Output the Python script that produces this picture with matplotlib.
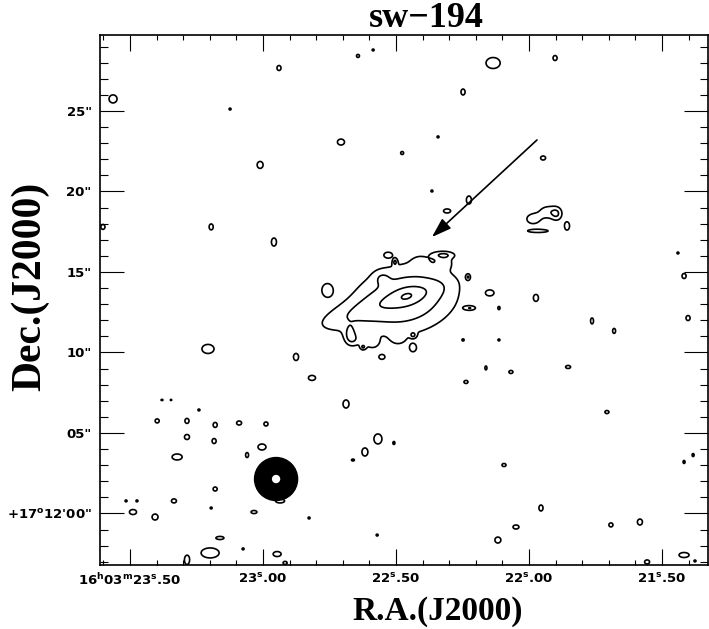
import numpy as np
import matplotlib
matplotlib.use("Agg")
import matplotlib.pyplot as plt
from matplotlib.patches import Ellipse
from matplotlib.ticker import MultipleLocator, FixedLocator

plt.rcParams['mathtext.fontset'] = 'dejavusans'

# contour levels (in units of the map rms)
levels = [3, 6, 12, 24]

# galaxy model: centre RA (s of 16h03m), Dec (arcsec of +17d12m), peak, sigma major/minor (arcsec)
# disk, bar, core, south-east tail
gal_ra = [22.466, 22.470, 22.459, 22.692]
gal_dec = [13.30, 13.42, 13.51, 12.14]
gal_amp = [9.0, 7.0, 10.0, 3.5]
gal_smaj = [2.0, 1.2, 0.45, 1.5]
gal_smin = [1.45, 0.38, 0.28, 0.6]
gal_pa = 19.0

# knots on the edge of the outer contour
knot_ra = [22.654, 22.590, 22.492, 22.553, 22.410, 22.316]
knot_dec = [10.78, 10.60, 10.90, 14.63, 15.56, 15.62]
knot_amp = [3.0, 3.0, 2.5, 2.5, 2.5, 2.5]

# small noise peaks: RA (s), Dec ("), full width in RA and Dec (") at the lowest level
blob_ra = [23.564, 22.940, 22.643, 22.586, 22.135, 21.902, 22.248, 23.124, 22.707, 22.477,
           22.342, 21.947, 23.011, 22.365, 23.195, 22.959, 23.602, 21.985, 21.929, 21.895,
           21.966, 21.857, 22.226, 22.308, 21.440, 21.417, 22.530, 22.504, 22.323, 22.759,
           22.673, 22.624, 22.436, 22.436, 22.553, 22.222, 22.147, 22.113, 22.248, 22.113,
           22.229, 21.974, 21.763, 21.680, 21.402, 21.853, 23.207, 22.876, 22.816, 22.688,
           22.237, 22.162, 22.068, 21.707, 23.398, 23.380, 23.346, 23.286, 23.241, 23.180,
           23.090, 23.286, 23.184, 23.323, 23.004, 23.060, 22.989, 22.568, 22.508, 22.617,
           22.662, 22.094, 22.936, 23.034, 22.827, 23.489, 23.406, 23.335, 23.515, 23.474,
           23.195, 23.180, 23.286, 23.199, 23.162, 23.075, 22.947, 22.917, 22.571, 22.117,
           22.049, 21.955, 21.692, 21.583, 21.556, 21.417, 21.376, 21.417, 21.383]
blob_dec = [25.75, 27.67, 28.42, 28.79, 27.98, 28.29, 26.18, 25.12, 23.07, 22.39,
            23.39, 22.08, 21.65, 20.03, 17.80, 16.86, 17.80, 18.29, 18.73, 18.60,
            17.55, 17.86, 19.47, 18.79, 16.18, 14.75, 16.06, 15.62, 16.06, 13.88,
            11.09, 10.34, 11.09, 10.28, 9.72, 12.76, 13.70, 12.76, 10.78, 10.78,
            14.69, 13.39, 11.96, 11.34, 12.14, 9.10, 10.22, 9.72, 8.42, 6.80,
            8.17, 9.04, 8.79, 6.30, 5.75, 7.05, 7.05, 5.75, 6.43, 5.50,
            5.62, 4.75, 4.50, 3.51, 4.13, 3.63, 5.56, 4.63, 4.38, 3.82,
            3.32, 3.01, 0.78, 0.09, -0.28, 0.09, -0.22, 0.78, 0.78, 0.78,
            0.34, 1.52, -2.89, -2.45, -1.52, -2.20, -2.52, -3.07, -1.34, -1.65,
            -0.84, 0.34, -0.71, -0.53, -3.01, -2.58, -2.95, 3.20, 3.63]
blob_w = [.43, .22, .16, .11, .76, .22, .22, .11, .38, .16,
          .11, .27, .32, .11, .22, .27, .22, .65, .76, .43,
          1.08, .27, .27, .38, .11, .22, .32, .16, .86, .49,
          .43, .22, .22, .27, .27, .43, .38, .11, .11, .11,
          .16, .27, .16, .16, .22, .27, .65, .27, .38, .32,
          .22, .11, .22, .22, .22, .11, .08, .22, .11, .22,
          .27, .27, .22, .54, .43, .16, .22, .43, .11, .32,
          .16, .22, .49, .32, .11, .38, .32, .27, .11, .11,
          .11, .22, .27, .97, .43, .11, .43, .22, .11, .32,
          .32, .22, .22, .27, .27, .54, .11, .11, .11]
blob_h = [.50, .31, .19, .12, .68, .31, .37, .12, .37, .19,
          .12, .25, .43, .12, .37, .50, .31, .56, .62, .62,
          .19, .50, .50, .25, .12, .31, .25, .31, .31, .68,
          .75, .25, .25, .37, .25, .19, .31, .19, .12, .12,
          .25, .43, .37, .31, .31, .19, .56, .43, .31, .50,
          .19, .25, .19, .19, .25, .08, .08, .31, .12, .31,
          .25, .31, .31, .37, .37, .31, .25, .62, .19, .50,
          .12, .19, .25, .19, .12, .31, .37, .25, .12, .12,
          .12, .25, .56, .62, .19, .12, .31, .19, .12, .37,
          .25, .37, .25, .37, .25, .31, .12, .19, .19]
blob_peak = 1.6  # times the lowest level

# restoring beam (arcsec, RA width x Dec height) and its position
beam_ra, beam_dec = 22.951, 2.14
beam_w, beam_h = 2.32, 2.67

arrow_from = (21.970, 23.20)
arrow_to = (22.365, 17.17)

ra_ticks = [23.5, 23.0, 22.5, 22.0, 21.5]
ra_labels = [r"16$^\mathbf{h}$03$^\mathbf{m}$23$^\mathbf{s}$.50", r"23$^\mathbf{s}$.00",
             r"22$^\mathbf{s}$.50", r"22$^\mathbf{s}$.00", r"21$^\mathbf{s}$.50"]
dec_ticks = [0, 5, 10, 15, 20, 25]
dec_labels = ["+17$^\\mathbf{o}$12'00\"", '05"', '10"', '15"', '20"', '25"']

# arcsec per second of RA at this declination
as_per_s = 15 * np.cos(np.radians(17.2))

ra_g = np.linspace(21.30, 23.65, 1000)
dec_g = np.linspace(-3.6, 30.0, 850)
RA, DEC = np.meshgrid(ra_g, dec_g)
field = np.zeros_like(RA)

th = np.radians(gal_pa)
for r0, d0, a, smaj, smin in zip(gal_ra, gal_dec, gal_amp, gal_smaj, gal_smin):
    u = -(RA - r0) * as_per_s
    v = DEC - d0
    p = u * np.cos(th) + v * np.sin(th)
    q = -u * np.sin(th) + v * np.cos(th)
    field += a * np.exp(-0.5 * ((p / smaj) ** 2 + (q / smin) ** 2))

for r0, d0, a in zip(knot_ra, knot_dec, knot_amp):
    u = (RA - r0) * as_per_s
    v = DEC - d0
    field += a * np.exp(-0.5 * (u ** 2 + v ** 2) / 0.3 ** 2)

kf = np.sqrt(2 * np.log(blob_peak))
for r0, d0, w, h in zip(blob_ra, blob_dec, blob_w, blob_h):
    sx = w / 2 / kf
    sy = h / 2 / kf
    u = (RA - r0) * as_per_s
    v = DEC - d0
    field += blob_peak * levels[0] * np.exp(-0.5 * ((u / sx) ** 2 + (v / sy) ** 2))

fig = plt.figure(figsize=(7.09, 6.29), dpi=100)
ax = fig.add_axes([100 / 709, 1 - 565 / 629, 608 / 709, 530 / 629])

ax.contour(RA, DEC, field, levels=levels, colors='k', linewidths=1.2)

ax.add_patch(Ellipse((beam_ra, beam_dec), beam_w / as_per_s, beam_h,
                     facecolor='k', edgecolor='k', zorder=3))
ax.add_patch(Ellipse((beam_ra, beam_dec), 0.45 / as_per_s, 0.52,
                     facecolor='white', edgecolor='none', zorder=4))

ax.annotate('', xy=arrow_to, xytext=arrow_from,
            arrowprops=dict(arrowstyle='-|>,head_length=0.6,head_width=0.2',
                            color='k', lw=1.2, mutation_scale=20,
                            shrinkA=0, shrinkB=0))

ax.set_xlim(23.613, 21.327)
ax.set_ylim(-3.2, 29.72)

ax.xaxis.set_major_locator(FixedLocator(ra_ticks))
ax.set_xticklabels(ra_labels)
ax.xaxis.set_minor_locator(MultipleLocator(0.1))
ax.yaxis.set_major_locator(FixedLocator(dec_ticks))
ax.set_yticklabels(dec_labels)
ax.yaxis.set_minor_locator(MultipleLocator(1))

ax.tick_params(which='both', direction='in', top=True, right=True, width=0.8)
ax.tick_params(axis='x', which='major', length=11.5, pad=5)
ax.tick_params(axis='x', which='minor', length=3.6)
ax.tick_params(axis='y', which='major', length=17, pad=6)
ax.tick_params(axis='y', which='minor', length=5.8)
for lab in ax.get_xticklabels() + ax.get_yticklabels():
    lab.set_fontweight('bold')
    lab.set_fontsize(9.5)
for s in ax.spines.values():
    s.set_linewidth(1.2)

fig.text(426 / 709, 1 - 27 / 629, 'sw\u2212194', ha='center', va='baseline',
         family='Liberation Serif', weight='bold', fontsize=26)
fig.text(438 / 709, 1 - 620 / 629, 'R.A.(J2000)', ha='center', va='baseline',
         family='Liberation Serif', weight='bold', fontsize=24)
fig.text(30 / 709, 1 - 286 / 629, 'Dec.(J2000)', ha='center', va='center', rotation=90,
         family='Liberation Serif', weight='bold', fontsize=30)

plt.savefig("out.png", dpi=100)
plt.close()
